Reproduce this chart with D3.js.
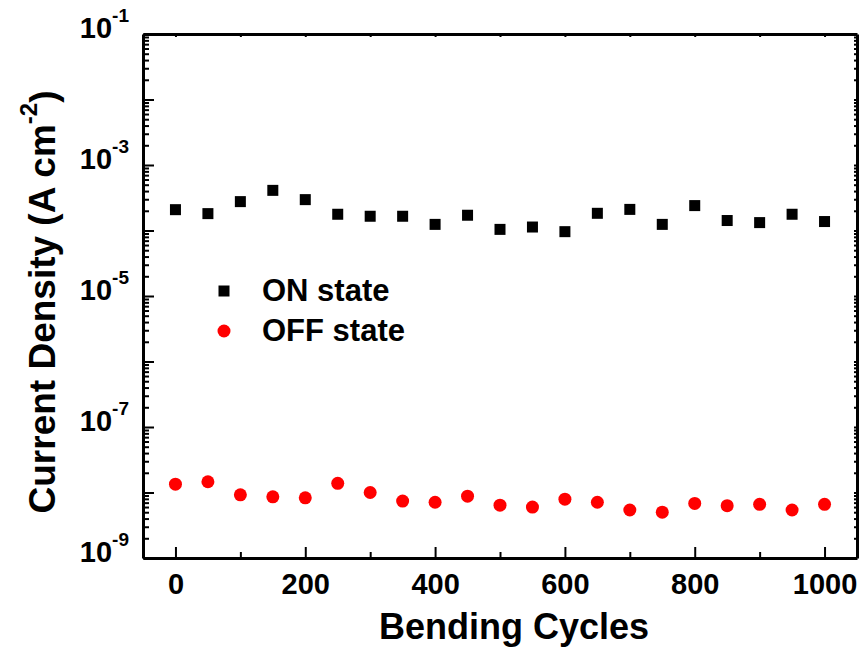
<!DOCTYPE html>
<html>
<head>
<meta charset="utf-8">
<script src="https://cdn.jsdelivr.net/npm/d3@7"></script>
<style>
  body { margin: 0; background: #fff; }
  text { font-family: "Liberation Sans", Arial, sans-serif; font-weight: bold; fill: #000; }
</style>
</head>
<body>
<svg></svg>
<script>
// Data
const cycles = [0, 50, 100, 150, 200, 250, 300, 350, 400, 450, 500, 550, 600, 650, 700, 750, 800, 850, 900, 950, 1000];
const onState = [2.08e-4, 1.81e-4, 2.76e-4, 4.1e-4, 2.96e-4, 1.77e-4, 1.65e-4, 1.65e-4, 1.24e-4, 1.71e-4, 1.04e-4,
                 1.13e-4, 0.96e-4, 1.83e-4, 2.1e-4, 1.24e-4, 2.4e-4, 1.42e-4, 1.32e-4, 1.77e-4, 1.37e-4];
const offState = [1.34e-8, 1.46e-8, 9.2e-9, 8.6e-9, 8.3e-9, 1.38e-8, 1.0e-8, 7.4e-9, 7.1e-9, 8.8e-9, 6.4e-9,
                  6.0e-9, 7.9e-9, 7.1e-9, 5.4e-9, 5.0e-9, 6.8e-9, 6.3e-9, 6.6e-9, 5.4e-9, 6.6e-9];
const xMajorTicks = [0, 200, 400, 600, 800, 1000];
const xMinorTicks = [100, 300, 500, 700, 900];
const yLabelExps = [-1, -3, -5, -7, -9];
const legendNames = ["ON state", "OFF state"];

const width = 864;
const height = 651;
const margin = { top: 34, right: 7, bottom: 93, left: 143 };
const innerWidth = width - margin.left - margin.right;
const innerHeight = height - margin.top - margin.bottom;

const svg = d3.select("svg")
    .attr("width", width)
    .attr("height", height);

const g = svg.append("g")
    .attr("transform", `translate(${margin.left},${margin.top})`);

// Scale
const xScale = d3.scaleLinear()
    .domain([-50, 1050])
    .range([0, innerWidth]);

const yScale = d3.scaleLog()
    .domain([1e-9, 1e-1])
    .range([innerHeight, 0]);

// log ticks: decades and 2..9 in between
const yMajor = d3.range(-9, 0).map(e => Math.pow(10, e));
const yMinor = [];
d3.range(-9, -1).forEach(e => {
    for (let k = 2; k <= 9; k++) yMinor.push(k * Math.pow(10, e));
});

// stroke styling; drop empty tick labels
function styleAxis(sel, w) {
    sel.select(".domain").attr("stroke", "#000").attr("stroke-width", w);
    sel.selectAll(".tick line").attr("stroke", "#000").attr("stroke-width", 2);
    sel.selectAll(".tick text").filter(function() { return !this.textContent; }).remove();
}

// Left axis
g.append("g")
    .call(d3.axisLeft(yScale).tickValues(yMinor).tickSize(-6).tickSizeOuter(0).tickFormat(""))
    .call(s => styleAxis(s, 3));
g.append("g")
    .call(d3.axisLeft(yScale).tickValues(yMajor).tickSize(-11).tickSizeOuter(0).tickFormat(""))
    .call(s => s.select(".domain").remove())
    .call(s => styleAxis(s, 3));

// Left axis labels 10^n
const yLabels = g.append("g")
    .call(d3.axisLeft(yScale).tickValues(yLabelExps.map(e => Math.pow(10, e))).tickSize(0).tickPadding(14).tickFormat(""))
    .call(s => s.select(".domain").remove());
yLabels.selectAll(".tick text")
    .attr("dy", "0.36em")
    .each(function(d) {
        const t = d3.select(this);
        t.append("tspan").attr("font-size", 29).text("10");
        t.append("tspan").attr("font-size", 19).attr("dy", "-0.85em").text(Math.round(Math.log10(d)));
    });

// Right axis, short ticks
g.append("g")
    .attr("transform", `translate(${innerWidth},0)`)
    .call(d3.axisRight(yScale).tickValues(yMajor.concat(yMinor)).tickSize(-3).tickSizeOuter(0).tickFormat(""))
    .call(s => styleAxis(s, 3));

// Top axis
g.append("g")
    .call(d3.axisTop(xScale).tickValues(xMajorTicks.concat(xMinorTicks)).tickSize(-3).tickSizeOuter(0).tickFormat(""))
    .call(s => styleAxis(s, 3));

// Bottom axis
g.append("g")
    .attr("transform", `translate(0,${innerHeight})`)
    .call(d3.axisBottom(xScale).tickValues(xMinorTicks).tickSize(-6).tickSizeOuter(0).tickFormat(""))
    .call(s => styleAxis(s, 3));
const xAxisMajor = g.append("g")
    .attr("transform", `translate(0,${innerHeight})`)
    .call(d3.axisBottom(xScale).tickValues(xMajorTicks).tickSize(-11).tickSizeOuter(0).tickPadding(15).tickFormat(d3.format("d")))
    .call(s => s.select(".domain").remove())
    .call(s => s.selectAll(".tick line").attr("stroke", "#000").attr("stroke-width", 2));
xAxisMajor.selectAll(".tick text")
    .attr("font-size", 29);

// Axis titles
svg.append("text")
    .attr("x", 514)
    .attr("y", 639)
    .attr("text-anchor", "middle")
    .attr("font-size", 36)
    .text("Bending Cycles");

const yTitle = svg.append("text")
    .attr("transform", "translate(55,302) rotate(-90)")
    .attr("text-anchor", "middle")
    .attr("font-size", 37);
yTitle.append("tspan").text("Current Density (A cm");
yTitle.append("tspan").attr("font-size", 24).attr("dy", "-0.75em").text("-2");
yTitle.append("tspan").attr("dy", "0.5em").text(")");

// ON state squares
const sq = 11;
g.selectAll(".on")
    .data(cycles)
    .enter()
    .append("rect")
    .attr("class", "on")
    .attr("x", (d, i) => xScale(d) - sq / 2)
    .attr("y", (d, i) => yScale(onState[i]) - sq / 2)
    .attr("width", sq)
    .attr("height", sq)
    .attr("fill", "#000");

// OFF state circles
g.selectAll(".off")
    .data(cycles)
    .enter()
    .append("circle")
    .attr("class", "off")
    .attr("cx", d => xScale(d))
    .attr("cy", (d, i) => yScale(offState[i]))
    .attr("r", 6.5)
    .attr("fill", "#ff0000");

// Legend
const legend = svg.append("g").attr("transform", "translate(224,291)");
legend.append("rect")
    .attr("x", -sq / 2).attr("y", -sq / 2)
    .attr("width", sq).attr("height", sq)
    .attr("fill", "#000");
legend.append("circle")
    .attr("cx", 0).attr("cy", 40)
    .attr("r", 6.5)
    .attr("fill", "#ff0000");
legend.selectAll(".lbl")
    .data(legendNames)
    .enter()
    .append("text")
    .attr("class", "lbl")
    .attr("x", 38)
    .attr("y", (d, i) => 10 + i * 40)
    .attr("font-size", 31)
    .text(d => d);
</script>
</body>
</html>
